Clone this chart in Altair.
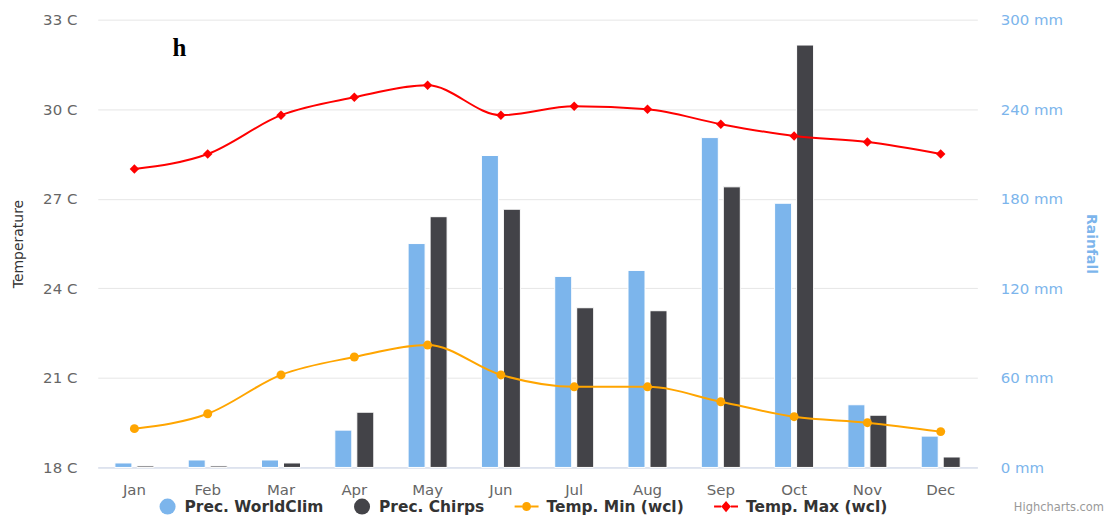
import altair as alt
import pandas as pd

months = ["Jan", "Feb", "Mar", "Apr", "May", "Jun", "Jul", "Aug", "Sep", "Oct", "Nov", "Dec"]
prec_worldclim = [3, 5, 5, 25, 150, 209, 128, 132, 221, 177, 42, 21]
prec_chirps = [1, 1, 3, 37, 168, 173, 107, 105, 188, 283, 35, 7]
temp_min = [19.3, 19.8, 21.1, 21.7, 22.1, 21.1, 20.7, 20.7, 20.2, 19.7, 19.5, 19.2]
temp_max = [28.0, 28.5, 29.8, 30.4, 30.8, 29.8, 30.1, 30.0, 29.5, 29.1, 28.9, 28.5]
series_names = ["Prec. WorldClim", "Prec. Chirps", "Temp. Min (wcl)", "Temp. Max (wcl)"]
series_colors = ["#7cb5ec", "#434348", "#FFA500", "#FF0000"]
temp_ticks = [18, 21, 24, 27, 30, 33]
rain_ticks = [0, 60, 120, 180, 240, 300]

bar_df = pd.DataFrame({
    "month": months * 2,
    "series": [series_names[0]] * 12 + [series_names[1]] * 12,
    "value": prec_worldclim + prec_chirps,
})
line_df = pd.DataFrame({
    "month": months * 2,
    "series": [series_names[2]] * 12 + [series_names[3]] * 12,
    "temp": temp_min + temp_max,
})

FONT = "DejaVu Sans"

# legend symbols: short line with a marker, drawn as filled sub-paths
min_symbol = ("M-1.875,-0.125L-0.935,-0.125L-0.935,0.125L-1.875,0.125Z"
              "M-0.935,0A0.56,0.56,0,1,0,0.185,0A0.56,0.56,0,1,0,-0.935,0Z"
              "M0.185,-0.125L1.125,-0.125L1.125,0.125L0.185,0.125Z")
max_symbol = ("M-1.875,-0.125L-0.975,-0.125L-0.975,0.125L-1.875,0.125Z"
              "M-0.375,-0.7L0.225,0L-0.375,0.7L-0.975,0Z"
              "M0.225,-0.125L1.125,-0.125L1.125,0.125L0.225,0.125Z")

legend = alt.Legend(
    title=None, orient="none", direction="horizontal",
    legendX=62, legendY=480, padding=0,
    symbolSize=256, symbolStrokeWidth=0,
    labelFont=FONT, labelFontSize=15.5, labelFontWeight="bold", labelColor="#333333",
    columnPadding=30, labelOffset=9,
)

color = alt.Color("series:N", scale=alt.Scale(domain=series_names, range=series_colors), legend=legend)

x_enc = alt.X(
    "month:N", sort=months, title=None,
    scale=alt.Scale(paddingInner=0, paddingOuter=0),
    axis=alt.Axis(labelAngle=0, ticks=False, grid=False, domainColor="#ccd6eb", domainWidth=1,
                  labelColor="#666666", labelFont=FONT, labelFontSize=15, labelPadding=15),
)

bars = alt.Chart(bar_df).mark_bar(stroke="white", strokeWidth=1).encode(
    x=x_enc,
    xOffset=alt.XOffset("series:N", sort=series_names[:2],
                        scale=alt.Scale(paddingInner=0.227, paddingOuter=0.78)),
    y=alt.Y("value:Q", scale=alt.Scale(domain=[0, 300], nice=False),
            axis=alt.Axis(orient="right", values=rain_ticks, labelExpr="datum.value + ' mm'",
                          title="Rainfall", titleColor="#7cb5ec", titleFont=FONT, titleFontSize=14,
                          titleFontWeight="bold", titleAngle=90, titlePadding=21,
                          labelColor="#7cb5ec", labelFont=FONT, labelFontSize=15, labelPadding=23,
                          domain=False, ticks=False, grid=False)),
    color=color,
)

temp_axis = alt.Axis(orient="left", values=temp_ticks, labelExpr="datum.value + ' C'",
                     title="Temperature", titleColor="#333333", titleFont=FONT, titleFontSize=14,
                     titleFontWeight="normal", titlePadding=17,
                     labelColor="#666666", labelFont=FONT, labelFontSize=15, labelPadding=21,
                     domain=False, ticks=False, grid=True, gridColor="#e6e6e6")
y_temp = alt.Y("temp:Q", scale=alt.Scale(domain=[18, 33], nice=False), axis=temp_axis)
x_line = alt.X("month:N", sort=months)

lines = alt.Chart(line_df).mark_line(interpolate="monotone", strokeWidth=2).encode(
    x=x_line, y=y_temp, color=color,
)
pts_min = alt.Chart(line_df).transform_filter(
    alt.datum.series == series_names[2]
).mark_point(shape="circle", filled=True, size=81, opacity=1).encode(
    x=x_line, y=y_temp, color=color,
)
pts_max = alt.Chart(line_df).transform_filter(
    alt.datum.series == series_names[3]
).mark_point(shape="diamond", filled=True, size=90, opacity=1).encode(
    x=x_line, y=y_temp, color=color,
)
# zero-size points that only carry the legend's symbol shapes
legend_shapes = alt.Chart(line_df).mark_point(filled=True, opacity=1).encode(
    x=x_line, y=y_temp, color=color,
    shape=alt.Shape("series:N", scale=alt.Scale(domain=series_names,
                                                range=["circle", "circle", min_symbol, max_symbol]),
                    legend=legend),
    size=alt.value(0),
)

label_h = alt.Chart(pd.DataFrame({"t": ["h"]})).mark_text(
    font="Liberation Serif", fontSize=25, fontWeight="bold", color="black", align="left", baseline="alphabetic"
).encode(text="t:N", x=alt.value(75), y=alt.value(36))

credit = alt.Chart(pd.DataFrame({"t": ["Highcharts.com"]})).mark_text(
    font=FONT, fontSize=11.5, color="#999999", align="right", baseline="alphabetic"
).encode(text="t:N", x=alt.value(1009), y=alt.value(493))

temp_layer = alt.layer(lines, pts_min, pts_max, legend_shapes)

chart = alt.layer(bars, temp_layer, label_h, credit).resolve_scale(
    y="independent"
).properties(
    width=882, height=449,
    autosize=alt.AutoSizeParams(type="none"),
    padding={"left": 90, "top": 11, "right": 130, "bottom": 52},
).configure(font=FONT).configure_view(stroke=None)

chart.save("out.html", embed_options={"renderer": "svg", "actions": False})
